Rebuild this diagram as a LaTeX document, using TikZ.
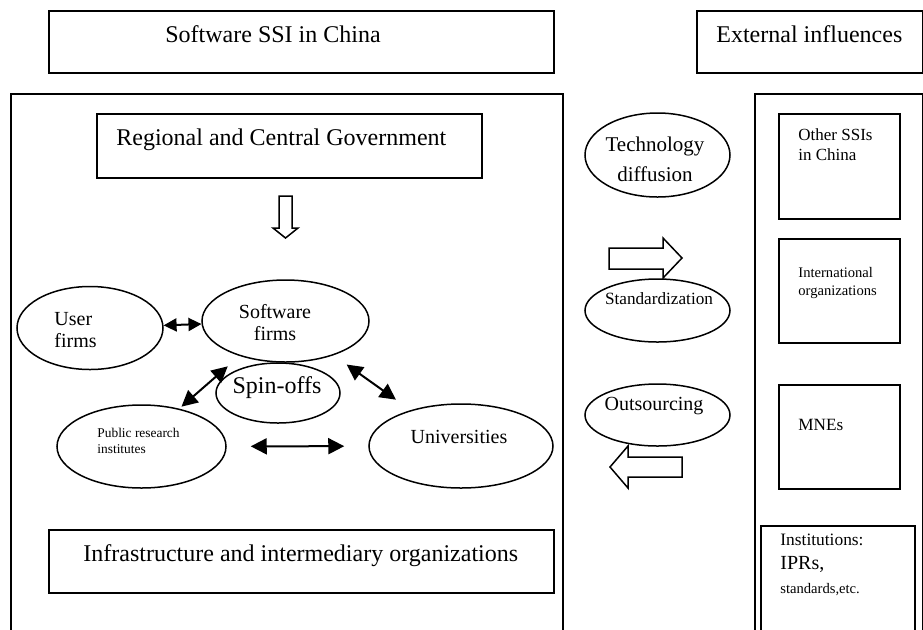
\documentclass[tikz,border=0pt]{standalone}
\usepackage{fontspec}
\setmainfont{Liberation Serif}
\usetikzlibrary{shapes.geometric,arrows.meta}
\tikzset{
  box/.style={draw, line width=.75pt, anchor=north west, inner sep=0pt},
  oval/.style={draw, ellipse, line width=.75pt, inner sep=0pt},
  txt/.style={inner sep=0pt, font=\fontsize{#1}{#1}\selectfont},
  link/.style={{Triangle[length=#1,width=#1]}-{Triangle[length=#1,width=#1]}, line width=1pt},
  link/.default=8pt,
  block/.style={line width=.75pt, line join=miter}
}
\begin{document}
\begin{tikzpicture}[x=.5pt, y=-.5pt]
  \useasboundingbox (0,0) rectangle (923,629);
  \clip (0,0) rectangle (923,629);

  \node[box, minimum width=252.5pt, minimum height=31pt] (ssi) at (48,10) {};
  \node[box, minimum width=113pt, minimum height=31pt] (ext) at (696,10) {};
  \node[box, minimum width=276pt, minimum height=284pt] (china) at (10,93) {};
  \node[box, minimum width=84pt, minimum height=284pt] (world) at (754,93) {};
  \node[box, minimum width=192.5pt, minimum height=32pt] (gov) at (96,113) {};
  \node[box, minimum width=252.5pt, minimum height=31.5pt] (infra) at (48,529) {};
  \node[box, minimum width=60.5pt, minimum height=52.5pt] (other) at (778,113) {};
  \node[box, minimum width=60.5pt, minimum height=52pt] (intl) at (778,238) {};
  \node[box, minimum width=60.5pt, minimum height=52pt] (mne) at (778,384) {};
  \node[box, minimum width=77pt, minimum height=68pt] (inst) at (760,525) {};

  \node[txt=12, anchor=west] (ssi-t) at (165,34) {Software SSI in China};
  \node[txt=12, anchor=west] (ext-t) at (716,34) {External influences};
  \node[txt=12, anchor=west] (gov-t) at (116,140) {Regional and Central Government};
  \node[txt=12, anchor=west] (infra-t) at (83,556) {Infrastructure and intermediary organizations};
  \node[txt=8.5, anchor=west, align=left, font=\fontsize{8.5}{10}\selectfont] (other-t) at (798,145) {Other SSIs\\in China};
  \node[txt=7.3, anchor=west, align=left, font=\fontsize{7.3}{9}\selectfont] (intl-t) at (798,283) {International\\organizations};
  \node[txt=8.6, anchor=west] (mne-t) at (798,425) {MNEs};
  \node[anchor=west, align=left, inner sep=0pt] (inst-t) at (780,565)
    {\fontsize{8.7}{10}\selectfont Institutions:\\IPRs,\\\fontsize{7.3}{9}\selectfont standards,etc.};

  \node[oval, minimum width=73pt, minimum height=41.5pt] (user) at (90,328) {};
  \node[oval, minimum width=83.5pt, minimum height=41pt] (sw) at (285.5,321) {};
  \node[oval, minimum width=62pt, minimum height=30pt] (spin) at (278,393) {};
  \node[oval, minimum width=84.5pt, minimum height=41.5pt] (pri) at (141.5,446.5) {};
  \node[oval, minimum width=92pt, minimum height=42pt] (uni) at (461,446) {};
  \node[oval, minimum width=72.5pt, minimum height=42pt] (tech) at (657.5,155) {};
  \node[oval, minimum width=72.5pt, minimum height=31.5pt] (std) at (657.5,310.5) {};
  \node[oval, minimum width=72.5pt, minimum height=31pt] (out) at (657.5,415) {};

  \node[txt=10, anchor=west, align=left, font=\fontsize{10}{11}\selectfont] (user-t) at (54,330) {User\\firms};
  \node[txt=10, align=center, font=\fontsize{10}{11}\selectfont] (sw-t) at (275,323) {Software\\firms};
  \node[txt=12] (spin-t) at (277,388) {Spin-offs};
  \node[txt=6.7, anchor=west, align=left, font=\fontsize{6.7}{8}\selectfont] (pri-t) at (97,441) {Public research\\institutes};
  \node[txt=10] (uni-t) at (459,437) {Universities};
  \node[txt=10.5, align=center, font=\fontsize{10.5}{15}\selectfont] (tech-t) at (655,159) {Technology\\diffusion};
  \node[txt=8.6] (std-t) at (659,299) {Standardization};
  \node[txt=10] (out-t) at (654,406) {Outsourcing};

  \draw[link=6.5pt] (user) -- (sw);
  \draw[link, shorten <=38.3pt, shorten >=26.5pt] ([yshift=2.5pt]sw.center) -- ([yshift=2.5pt]pri.center);
  \draw[link, shorten <=8pt, shorten >=9pt] (sw) -- (uni);
  \draw[link, shorten <=12pt, shorten >=12pt] (pri) -- (uni);

  \draw[block] (279,196) -- (292,196) -- (292,228) -- (298,228) -- (285.5,238)
    -- (273,228) -- (279,228) -- cycle;
  \draw[block] (609,248) -- (663,248) -- (663,238) -- (682,258) -- (663,278)
    -- (663,269) -- (609,269) -- cycle;
  \draw[block] (682,457) -- (628,457) -- (628,446) -- (610,467) -- (628,488)
    -- (628,477) -- (682,477) -- cycle;
\end{tikzpicture}
\end{document}
